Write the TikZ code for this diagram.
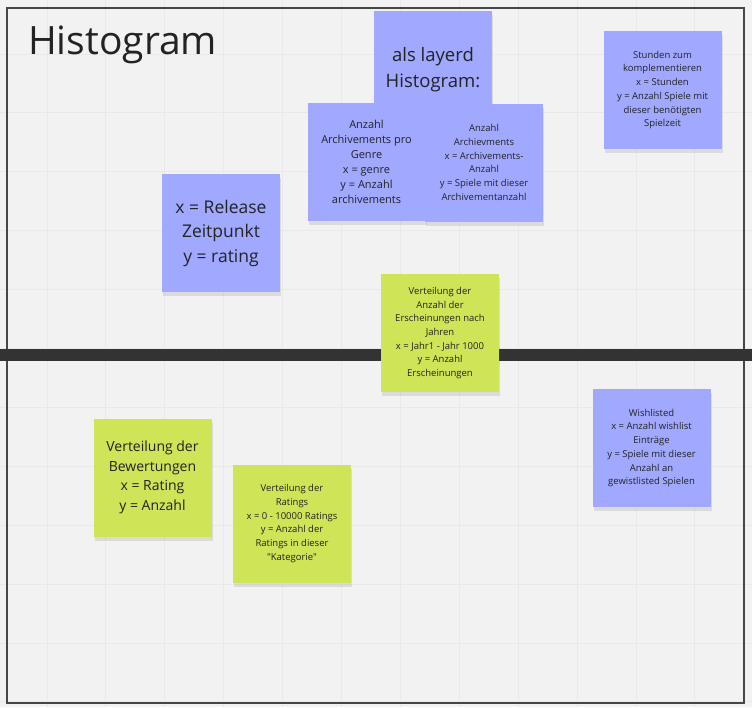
\documentclass[tikz,border=0pt]{standalone}
\usepackage{fontspec}
\setmainfont{Open Sans}
\usetikzlibrary{shadows}

\definecolor{board}{RGB}{242,242,242}
\definecolor{gridline}{RGB}{233,233,233}
\definecolor{frameline}{RGB}{70,70,70}
\definecolor{divider}{RGB}{51,51,51}
\definecolor{stickyblue}{RGB}{160,168,255}
\definecolor{stickygreen}{RGB}{207,228,86}
\definecolor{stickytext}{RGB}{35,35,35}
\newcommand{\straightquote}{\XeTeXglyph\XeTeXcharglyph"22\relax}

\begin{document}
\begin{tikzpicture}
  [x=1pt,y=-1pt,
   note/.style={rectangle,minimum width=118pt,minimum height=118pt,inner sep=2pt,
     align=center,text=stickytext,
     drop shadow={shadow xshift=1pt,shadow yshift=-4pt,opacity=.2}},
   bluenote/.style={note,fill=stickyblue},
   greennote/.style={note,fill=stickygreen}]
  \useasboundingbox (0,0) rectangle (752,707);
  \fill[board] (0,0) rectangle (752,707);

  % board grid
  \foreach \x in {47,105.9,...,700}
    \draw[gridline,line width=1pt] (\x,0) -- (\x,707);
  \foreach \y in {54,112.9,...,705}
    \draw[gridline,line width=1pt] (0,\y) -- (752,\y);

  \draw[frameline,line width=1.8pt] (7,8) rectangle (744,703);
  \draw[divider,line width=12pt] (0,355) -- (752,355);

  \node[anchor=base west,inner sep=0pt,text=stickytext,font=\fontsize{39}{45}\selectfont] (title) at (28,54) {Histogram};

  \node[bluenote,font=\fontsize{18.5}{26}\selectfont] (layered) at (433,70) {als layerd\\Histogram:};
  \node[bluenote,font=\fontsize{11}{15}\selectfont] (genre) at (366.5,162) {Anzahl\\Archivements pro\\Genre\\x = genre\\y = Anzahl\\archivements};
  \node[bluenote,font=\fontsize{9.5}{13.7}\selectfont] (achievements) at (484,162.5) {Anzahl\\Archievments\\x = Archivements-\\Anzahl\\y = Spiele mit dieser\\Archivementanzahl};
  \node[bluenote,font=\fontsize{9.5}{13.7}\selectfont] (playtime) at (662.5,90) {Stunden zum\\komplementieren\\x = Stunden\\y = Anzahl Spiele mit\\dieser benötigten\\Spielzeit};
  \node[bluenote,font=\fontsize{17.5}{24.5}\selectfont] (release) at (221,233) {x = Release\\Zeitpunkt\\y = rating};
  \node[greennote,font=\fontsize{9.5}{13.7}\selectfont] (years) at (440,333) {Verteilung der\\Anzahl der\\Erscheinungen nach\\Jahren\\x = Jahr1 - Jahr 1000\\y = Anzahl\\Erscheinungen};
  \node[bluenote,font=\fontsize{9.5}{13.7}\selectfont] (wishlist) at (651.5,448) {Wishlisted\\x = Anzahl wishlist\\Einträge\\y = Spiele mit dieser\\Anzahl an\\gewistlisted Spielen};
  \node[greennote,font=\fontsize{14}{19.5}\selectfont] (scores) at (152.5,477.5) {Verteilung der\\Bewertungen\\x = Rating\\y = Anzahl};
  \node[greennote,font=\fontsize{9.5}{13.7}\selectfont] (ratings) at (292,523.5) {Verteilung der\\Ratings\\x = 0 - 10000 Ratings\\y = Anzahl der\\Ratings in dieser\\\straightquote Kategorie\straightquote};

\end{tikzpicture}
\end{document}
